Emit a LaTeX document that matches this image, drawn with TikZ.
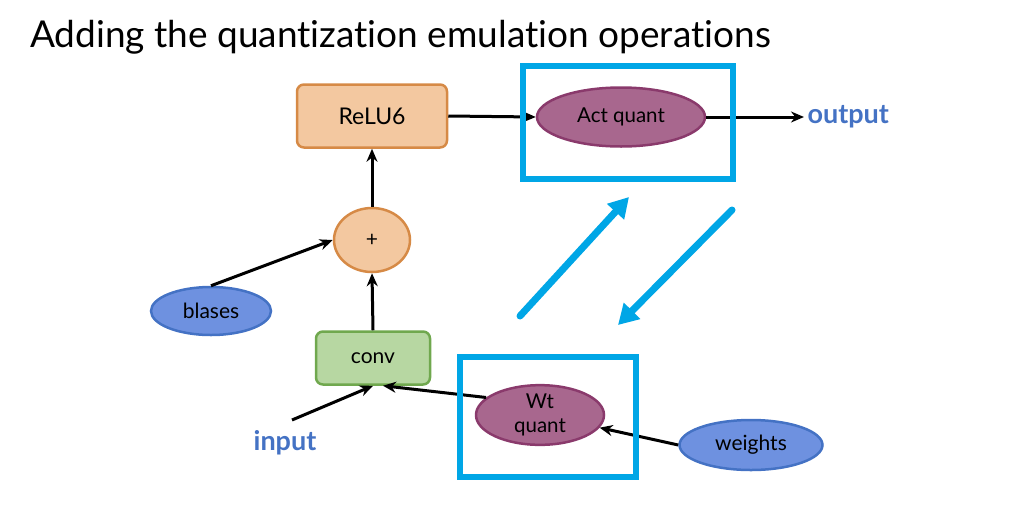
\documentclass[tikz,border=0pt]{standalone}
\usepackage{fontspec}
\setmainfont{Lato}[Ligatures=NoCommon]
\usetikzlibrary{shapes.geometric,arrows.meta}
\definecolor{peach}{RGB}{243,200,160}
\definecolor{peachline}{RGB}{214,138,70}
\definecolor{leaf}{RGB}{183,215,162}
\definecolor{leafline}{RGB}{112,168,78}
\definecolor{plum}{RGB}{168,103,142}
\definecolor{plumline}{RGB}{138,58,108}
\definecolor{sky}{RGB}{110,145,224}
\definecolor{skyline}{RGB}{68,114,196}
\definecolor{hilite}{RGB}{0,166,230}
\tikzset{
  opbox/.style={draw=peachline,fill=peach,line width=2.5pt,rounded corners=7pt,minimum width=150pt,minimum height=63pt,font=\fontsize{23}{26}\selectfont},
  opround/.style={ellipse,draw=peachline,fill=peach,line width=2.5pt,minimum width=76pt,minimum height=64pt,inner sep=0pt,font=\fontsize{21}{24}\selectfont},
  qnode/.style={ellipse,draw=plumline,fill=plum,line width=2.5pt,inner sep=0pt,align=center,font=\fontsize{20.5}{24}\selectfont},
  innode/.style={ellipse,draw=skyline,fill=sky,line width=2.5pt,inner sep=0pt,font=\fontsize{21}{24}\selectfont},
  iolabel/.style={text=skyline,font=\fontsize{27}{30}\selectfont\bfseries},
  arr/.style={line width=3pt,-{Stealth[length=13pt,width=11pt]}},
  hiarr/.style={hilite,line width=7pt,line cap=round,-{Triangle[length=20pt,width=22pt]}},
  hibox/.style={hilite,line width=6pt}
}
\begin{document}
\begin{tikzpicture}[x=1pt,y=-1pt]
\useasboundingbox (0,0) rectangle (1011,509);
\node[anchor=base west,inner sep=0pt,font=\fontsize{37}{42}\selectfont] (title) at (30,47) {Adding the quantization emulation operations};

\node[opbox] (relu) at (372,116) {ReLU6};
\node[qnode,minimum width=168pt,minimum height=59pt] (actq) at (621,117) {Act quant};
\node[iolabel,anchor=west] (out) at (804,117) {output};
\node[opround] (plus) at (372,240) {+};
\node[innode,minimum width=120pt,minimum height=48pt] (bias) at (211,311) {blases};
\node[opbox,draw=leafline,fill=leaf,minimum width=114pt,minimum height=53pt,font=\fontsize{21}{24}\selectfont] (conv) at (373,358) {conv};
\node[iolabel] (inp) at (285,443) {input};
\coordinate (inend) at (292,420);
\node[qnode,minimum width=128pt,minimum height=56pt] (wtq) at (540,415) {Wt\\quant};
\node[innode,minimum width=143pt,minimum height=50pt] (wts) at (751,445) {weights};

\draw[arr] (relu.east) -- (actq.west);
\draw[arr] (actq.east) -- (out.west);
\draw[arr] (plus.north) -- (relu.south);
\draw[arr] (conv.north) -- (plus.south);
\draw[arr] (bias.north) -- (plus.west);
\draw[arr] (inend) -- (conv.south);
\draw[arr] (wtq.162) -- ([xshift=10pt]conv.south);
\draw[arr] (wts.west) -- (wtq.-12);

\draw[hibox] (523,66) rectangle (733,179);
\draw[hibox] (460,357) rectangle (636,477);
\draw[hiarr] (520,316) -- (629,197);
\draw[hiarr] (732,210) -- (618,325);
\end{tikzpicture}
\end{document}
